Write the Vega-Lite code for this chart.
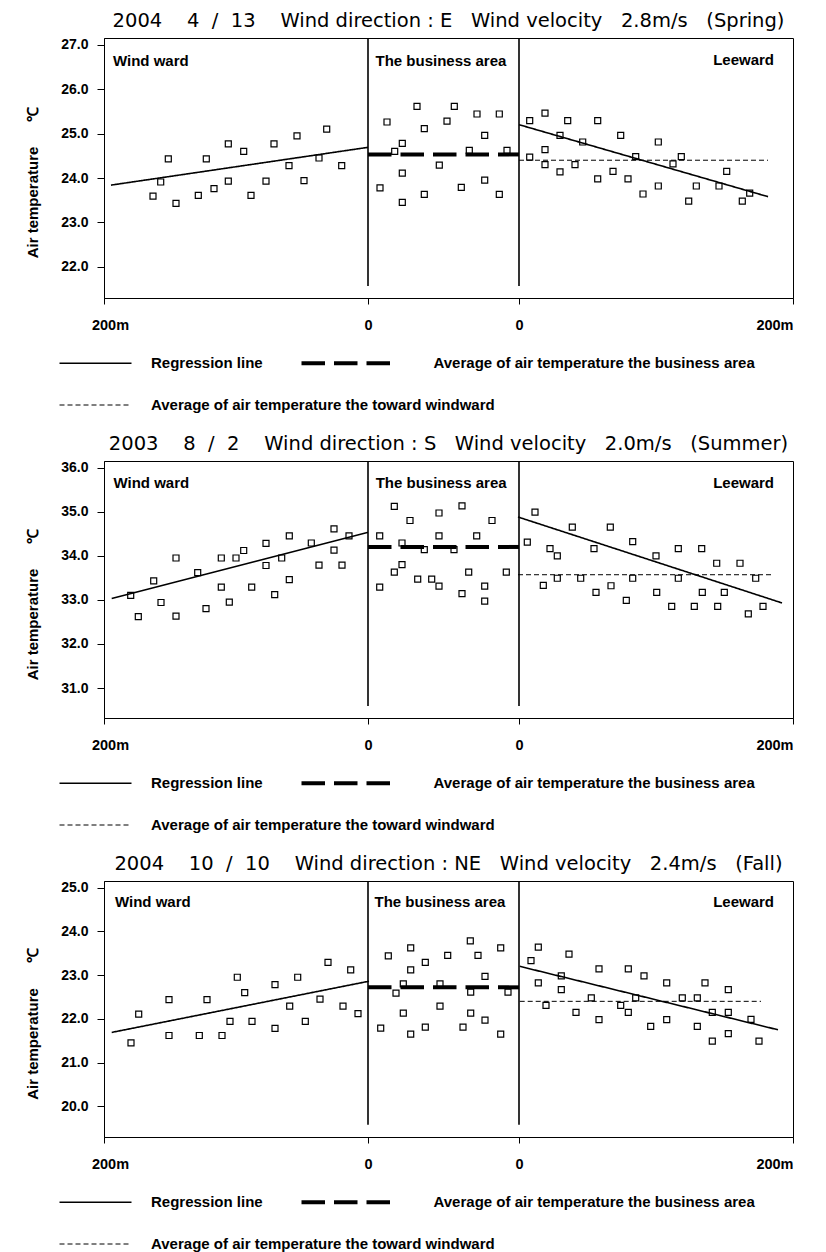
{
  "$schema": "https://vega.github.io/schema/vega-lite/v6.json",
  "background": "white",
  "padding": {"left": 25, "top": 10, "right": 5, "bottom": 0},
  "spacing": 19,
  "config": {
    "view": {"stroke": "black", "strokeWidth": 1},
    "axis": {"labelFont": "Liberation Sans", "labelFontWeight": "bold", "labelColor": "black", "domainColor": "black", "tickColor": "black", "titleColor": "black", "titleFont": "Liberation Sans", "titleFontWeight": "bold", "grid": false},
    "title": {"font": "DejaVu Sans", "fontSize": 19.5, "fontWeight": "normal", "color": "black", "anchor": "middle", "offset": 6},
    "legend": {"title": null, "orient": "none", "labelFont": "Liberation Sans", "labelFontSize": 15, "labelFontWeight": "bold", "labelColor": "black", "labelLimit": 600, "symbolType": "M-7.2,0H7.2", "symbolSize": 100, "symbolOffset": 35, "labelOffset": 83, "symbolStrokeColor": "black", "columnPadding": 30}
  },
  "resolve": {
    "scale": {"x": "independent", "y": "independent", "strokeDash": "independent", "stroke": "independent"},
    "legend": {"strokeDash": "independent", "stroke": "independent"}
  },
  "datasets": {
    "pts": [
      {"p":1,"pos":49,"t":23.59},{"p":1,"pos":56.7,"t":23.91},{"p":1,"pos":64.3,"t":24.43},{"p":1,"pos":72,"t":23.43},{"p":1,"pos":94.3,"t":23.61},{"p":1,"pos":102.3,"t":24.43},{"p":1,"pos":110,"t":23.76},{"p":1,"pos":124.3,"t":24.77},{"p":1,"pos":124.3,"t":23.93},{"p":1,"pos":139.7,"t":24.6},{"p":1,"pos":147,"t":23.61},{"p":1,"pos":162,"t":23.93},{"p":1,"pos":170,"t":24.77},{"p":1,"pos":185,"t":24.28},{"p":1,"pos":193,"t":24.95},{"p":1,"pos":200,"t":23.94},{"p":1,"pos":215,"t":24.45},{"p":1,"pos":222.7,"t":25.1},{"p":1,"pos":237.7,"t":24.28},
      {"p":1,"pos":276,"t":23.78},{"p":1,"pos":283,"t":25.26},{"p":1,"pos":290.7,"t":24.6},{"p":1,"pos":298.3,"t":24.78},{"p":1,"pos":298.3,"t":24.11},{"p":1,"pos":298.3,"t":23.45},{"p":1,"pos":313,"t":25.61},{"p":1,"pos":320.3,"t":25.11},{"p":1,"pos":320.3,"t":23.63},{"p":1,"pos":335.3,"t":24.29},{"p":1,"pos":343,"t":25.28},{"p":1,"pos":350.3,"t":25.61},{"p":1,"pos":357.3,"t":23.79},{"p":1,"pos":365.3,"t":24.62},{"p":1,"pos":373,"t":25.44},{"p":1,"pos":380.7,"t":24.96},{"p":1,"pos":380.7,"t":23.95},{"p":1,"pos":395.3,"t":25.44},{"p":1,"pos":395.3,"t":23.63},{"p":1,"pos":403,"t":24.62},
      {"p":1,"pos":425.7,"t":25.29},{"p":1,"pos":425.7,"t":24.47},{"p":1,"pos":441,"t":25.46},{"p":1,"pos":441,"t":24.64},{"p":1,"pos":441,"t":24.3},{"p":1,"pos":456,"t":24.96},{"p":1,"pos":456,"t":24.14},{"p":1,"pos":463.7,"t":25.29},{"p":1,"pos":471,"t":24.3},{"p":1,"pos":478.7,"t":24.81},{"p":1,"pos":493.7,"t":25.29},{"p":1,"pos":493.7,"t":23.98},{"p":1,"pos":509,"t":24.15},{"p":1,"pos":516.7,"t":24.96},{"p":1,"pos":524,"t":23.98},{"p":1,"pos":531.7,"t":24.48},{"p":1,"pos":539,"t":23.64},{"p":1,"pos":554.3,"t":24.81},{"p":1,"pos":554.3,"t":23.82},{"p":1,"pos":569,"t":24.32},{"p":1,"pos":577.3,"t":24.48},{"p":1,"pos":584.7,"t":23.48},{"p":1,"pos":592.3,"t":23.82},{"p":1,"pos":615,"t":23.82},{"p":1,"pos":622.7,"t":24.15},{"p":1,"pos":638.3,"t":23.48},{"p":1,"pos":645.7,"t":23.66},
      {"p":2,"pos":26.7,"t":33.1},{"p":2,"pos":34.3,"t":32.62},{"p":2,"pos":49.7,"t":33.43},{"p":2,"pos":57,"t":32.94},{"p":2,"pos":72,"t":33.95},{"p":2,"pos":72,"t":32.63},{"p":2,"pos":93.7,"t":33.62},{"p":2,"pos":102,"t":32.8},{"p":2,"pos":117.3,"t":33.95},{"p":2,"pos":117.3,"t":33.29},{"p":2,"pos":125.3,"t":32.95},{"p":2,"pos":132,"t":33.95},{"p":2,"pos":139.7,"t":34.12},{"p":2,"pos":147.7,"t":33.29},{"p":2,"pos":162,"t":34.28},{"p":2,"pos":162,"t":33.78},{"p":2,"pos":170.7,"t":33.12},{"p":2,"pos":177.7,"t":33.95},{"p":2,"pos":185.3,"t":34.45},{"p":2,"pos":185.3,"t":33.46},{"p":2,"pos":207.3,"t":34.29},{"p":2,"pos":215,"t":33.79},{"p":2,"pos":230,"t":34.61},{"p":2,"pos":230,"t":34.13},{"p":2,"pos":238,"t":33.79},{"p":2,"pos":245,"t":34.45},
      {"p":2,"pos":275.7,"t":34.45},{"p":2,"pos":275.7,"t":33.29},{"p":2,"pos":290.3,"t":35.12},{"p":2,"pos":290.3,"t":33.63},{"p":2,"pos":298,"t":34.29},{"p":2,"pos":298,"t":33.8},{"p":2,"pos":306,"t":34.8},{"p":2,"pos":313.7,"t":33.47},{"p":2,"pos":320.3,"t":34.14},{"p":2,"pos":327.7,"t":33.47},{"p":2,"pos":335,"t":34.97},{"p":2,"pos":335,"t":34.45},{"p":2,"pos":335,"t":33.31},{"p":2,"pos":350,"t":34.14},{"p":2,"pos":358,"t":35.13},{"p":2,"pos":358,"t":33.14},{"p":2,"pos":364.7,"t":33.63},{"p":2,"pos":372.7,"t":34.45},{"p":2,"pos":380.7,"t":33.31},{"p":2,"pos":380.7,"t":32.97},{"p":2,"pos":388,"t":34.8},{"p":2,"pos":402.3,"t":33.63},
      {"p":2,"pos":431,"t":34.99},{"p":2,"pos":423.3,"t":34.31},{"p":2,"pos":439.3,"t":33.33},{"p":2,"pos":446,"t":34.16},{"p":2,"pos":453.3,"t":34.0},{"p":2,"pos":453.3,"t":33.49},{"p":2,"pos":468.3,"t":34.65},{"p":2,"pos":476.7,"t":33.49},{"p":2,"pos":490,"t":34.16},{"p":2,"pos":492,"t":33.17},{"p":2,"pos":506.3,"t":34.65},{"p":2,"pos":507,"t":33.32},{"p":2,"pos":522.3,"t":32.99},{"p":2,"pos":528.7,"t":34.32},{"p":2,"pos":528.7,"t":33.49},{"p":2,"pos":552,"t":34.0},{"p":2,"pos":552.7,"t":33.17},{"p":2,"pos":567.7,"t":32.85},{"p":2,"pos":574.3,"t":34.16},{"p":2,"pos":574.3,"t":33.49},{"p":2,"pos":590.3,"t":32.85},{"p":2,"pos":597.7,"t":34.16},{"p":2,"pos":598.3,"t":33.17},{"p":2,"pos":612.7,"t":33.83},{"p":2,"pos":613.7,"t":32.85},{"p":2,"pos":620.3,"t":33.17},{"p":2,"pos":636,"t":33.83},{"p":2,"pos":644.3,"t":32.68},{"p":2,"pos":651.7,"t":33.49},{"p":2,"pos":659,"t":32.85},
      {"p":3,"pos":27,"t":21.45},{"p":3,"pos":34.7,"t":22.11},{"p":3,"pos":65,"t":22.44},{"p":3,"pos":65,"t":21.62},{"p":3,"pos":95.3,"t":21.62},{"p":3,"pos":103,"t":22.44},{"p":3,"pos":118,"t":21.62},{"p":3,"pos":126,"t":21.94},{"p":3,"pos":133.3,"t":22.95},{"p":3,"pos":140.7,"t":22.6},{"p":3,"pos":148,"t":21.94},{"p":3,"pos":171,"t":22.78},{"p":3,"pos":171,"t":21.78},{"p":3,"pos":185.7,"t":22.29},{"p":3,"pos":193.7,"t":22.95},{"p":3,"pos":201.3,"t":21.94},{"p":3,"pos":216,"t":22.45},{"p":3,"pos":224,"t":23.29},{"p":3,"pos":239,"t":22.29},{"p":3,"pos":246.7,"t":23.12},{"p":3,"pos":254,"t":22.12},
      {"p":3,"pos":276.7,"t":21.79},{"p":3,"pos":284.3,"t":23.44},{"p":3,"pos":292,"t":22.59},{"p":3,"pos":299.3,"t":22.8},{"p":3,"pos":299.3,"t":22.13},{"p":3,"pos":306.7,"t":23.62},{"p":3,"pos":306.7,"t":23.12},{"p":3,"pos":306.7,"t":21.65},{"p":3,"pos":321.3,"t":23.29},{"p":3,"pos":321.3,"t":21.81},{"p":3,"pos":336,"t":22.8},{"p":3,"pos":336,"t":22.29},{"p":3,"pos":343.7,"t":23.45},{"p":3,"pos":359,"t":21.81},{"p":3,"pos":366.3,"t":23.78},{"p":3,"pos":366.7,"t":22.61},{"p":3,"pos":366.7,"t":22.13},{"p":3,"pos":374,"t":23.45},{"p":3,"pos":381,"t":22.97},{"p":3,"pos":381,"t":21.97},{"p":3,"pos":396.7,"t":23.62},{"p":3,"pos":396.7,"t":21.65},{"p":3,"pos":404,"t":22.61},
      {"p":3,"pos":427,"t":23.33},{"p":3,"pos":434.3,"t":23.64},{"p":3,"pos":434.3,"t":22.82},{"p":3,"pos":442,"t":22.31},{"p":3,"pos":457.3,"t":22.98},{"p":3,"pos":457.3,"t":22.67},{"p":3,"pos":465,"t":23.48},{"p":3,"pos":472,"t":22.15},{"p":3,"pos":487.3,"t":22.48},{"p":3,"pos":495,"t":23.14},{"p":3,"pos":495,"t":21.98},{"p":3,"pos":516.7,"t":22.31},{"p":3,"pos":524.3,"t":23.14},{"p":3,"pos":524.3,"t":22.15},{"p":3,"pos":531.7,"t":22.48},{"p":3,"pos":540,"t":22.98},{"p":3,"pos":546.7,"t":21.83},{"p":3,"pos":562.7,"t":22.82},{"p":3,"pos":562.7,"t":21.98},{"p":3,"pos":578.3,"t":22.48},{"p":3,"pos":593.3,"t":22.48},{"p":3,"pos":593.3,"t":21.83},{"p":3,"pos":601,"t":22.82},{"p":3,"pos":608.3,"t":22.15},{"p":3,"pos":608.3,"t":21.49},{"p":3,"pos":624.3,"t":22.67},{"p":3,"pos":624.3,"t":22.15},{"p":3,"pos":624.3,"t":21.66},{"p":3,"pos":647,"t":21.99},{"p":3,"pos":655,"t":21.49}
    ],
    "segs": [
      {"p":1,"kind":"Regression line","pos":7,"t":23.84,"pos2":264,"t2":24.69},
      {"p":1,"kind":"Regression line","pos":415,"t":25.2,"pos2":664,"t2":23.58},
      {"p":1,"kind":"Average of air temperature the business area","pos":264,"t":24.53,"pos2":415,"t2":24.53},
      {"p":1,"kind":"Average of air temperature the toward windward","pos":415,"t":24.4,"pos2":664,"t2":24.4},
      {"p":2,"kind":"Regression line","pos":7.7,"t":33.03,"pos2":264,"t2":34.53},
      {"p":2,"kind":"Regression line","pos":414,"t":34.88,"pos2":678,"t2":32.93},
      {"p":2,"kind":"Average of air temperature the business area","pos":264,"t":34.2,"pos2":415,"t2":34.2},
      {"p":2,"kind":"Average of air temperature the toward windward","pos":414,"t":33.57,"pos2":670,"t2":33.57},
      {"p":3,"kind":"Regression line","pos":7.7,"t":21.69,"pos2":265,"t2":22.86},
      {"p":3,"kind":"Regression line","pos":415.7,"t":23.2,"pos2":674,"t2":21.75},
      {"p":3,"kind":"Average of air temperature the business area","pos":264,"t":22.72,"pos2":415,"t2":22.72},
      {"p":3,"kind":"Average of air temperature the toward windward","pos":415.7,"t":22.4,"pos2":657,"t2":22.4}
    ],
    "divs": [
      {"p":1,"pos":264,"t":27.15,"t2":21.57},{"p":1,"pos":415,"t":27.15,"t2":21.57},
      {"p":2,"pos":264,"t":36.15,"t2":30.59},{"p":2,"pos":415,"t":36.15,"t2":30.59},
      {"p":3,"pos":264,"t":25.15,"t2":19.58},{"p":3,"pos":415,"t":25.15,"t2":19.58}
    ],
    "labels": [
      {"p":1,"label":"Wind ward","pos":9,"t":26.64},{"p":1,"label":"The business area","pos":271.5,"t":26.64},{"p":1,"label":"Leeward","pos":670,"t":26.66},
      {"p":2,"label":"Wind ward","pos":9.5,"t":35.66},{"p":2,"label":"The business area","pos":271.7,"t":35.66},{"p":2,"label":"Leeward","pos":670,"t":35.66},
      {"p":3,"label":"Wind ward","pos":11,"t":24.66},{"p":3,"label":"The business area","pos":270.5,"t":24.66},{"p":3,"label":"Leeward","pos":670,"t":24.66}
    ]
  },
  "vconcat": [
    {
      "title": {"text": "2004\u00a0\u00a0\u00a0\u00a04\u00a0\u00a0/\u00a0\u00a013\u00a0\u00a0\u00a0\u00a0Wind direction\u00a0:\u00a0E\u00a0\u00a0\u00a0Wind velocity\u00a0\u00a0\u00a02.8m/s\u00a0\u00a0\u00a0(Spring)"},
      "width": 689, "height": 260,
      "encoding": {
        "x": {"field": "pos", "type": "quantitative", "scale": {"domain": [0, 689], "nice": false, "zero": false},
          "axis": {"values": [0, 264, 415, 689], "labelExpr": "datum.value < 100 || datum.value > 600 ? '200m' : '0'", "title": null, "tickSize": 6, "labelPadding": 14, "labelFontSize": 14.5, "labelFlush": false,
            "labelAlign": {"condition": {"test": "datum.value > 600", "value": "right"}, "value": "center"},
            "labelOffset": {"condition": {"test": "datum.value < 100", "value": 6}, "value": 0}}},
        "y": {"field": "t", "type": "quantitative", "scale": {"domain": [21.3, 27.15], "nice": false, "zero": false},
          "axis": {"values": [22, 23, 24, 25, 26, 27], "format": ".1f", "title": "Air temperature\u00a0\u00a0\u00a0\u00a0\u00a0\u00a0℃", "titleY": 144, "tickSize": 7, "labelPadding": 9, "labelFontSize": 14, "titleFontSize": 15, "titlePadding": 20}}
      },
      "layer": [
        {"data": {"name": "divs"}, "transform": [{"filter": "datum.p == 1"}], "mark": {"type": "rule", "color": "black", "strokeWidth": 1.6}, "encoding": {"y2": {"field": "t2"}}},
        {"data": {"name": "segs"}, "transform": [{"filter": "datum.p == 1 && datum.kind != 'Average of air temperature the toward windward'"}], "mark": {"type": "rule", "color": "black"},
          "encoding": {"x2": {"field": "pos2"}, "y2": {"field": "t2"},
            "strokeWidth": {"condition": {"test": "datum.kind == 'Average of air temperature the business area'", "value": 4}, "value": 1.6},
            "strokeDash": {"field": "kind", "type": "nominal", "scale": {"domain": ["Regression line", "Average of air temperature the business area"], "range": [[1, 0], [23.5, 9]]},
              "legend": {"legendX": -51, "legendY": 317.5, "direction": "horizontal",
                "encode": {"symbols": {"update": {"shape": {"signal": "datum.value === 'Regression line' ? 'M-7.2,0H7.2' : 'M-7.2,0H10.8'"}, "strokeWidth": {"signal": "datum.value === 'Regression line' ? 1.5 : 4"}}},
                  "labels": {"update": {"x": {"signal": "datum.value === 'Regression line' ? 98 : 138.5"}}}}}}}},
        {"data": {"name": "segs"}, "transform": [{"filter": "datum.p == 1 && datum.kind == 'Average of air temperature the toward windward'"}], "mark": {"type": "rule", "strokeDash": [5, 3], "strokeWidth": 1},
          "encoding": {"x2": {"field": "pos2"}, "y2": {"field": "t2"},
            "stroke": {"field": "kind", "type": "nominal", "scale": {"range": ["black"]},
              "legend": {"legendX": -51, "legendY": 359.5, "symbolDash": [5, 3], "symbolStrokeWidth": 1,
                "encode": {"symbols": {"update": {"x": {"value": 42.5}}}, "labels": {"update": {"x": {"value": 98}}}}}}}},
        {"data": {"name": "pts"}, "transform": [{"filter": "datum.p == 1"}], "mark": {"type": "point", "shape": "square", "filled": false, "size": 36, "stroke": "black", "strokeWidth": 1.2, "opacity": 1}},
        {"data": {"name": "labels"}, "transform": [{"filter": "datum.p == 1"}], "mark": {"type": "text", "font": "Liberation Sans", "fontSize": 15, "fontWeight": "bold", "color": "black", "baseline": "middle", "align": {"expr": "datum.label == 'Leeward' ? 'right' : 'left'"}}, "encoding": {"text": {"field": "label"}}}
      ]
    },
    {
      "title": {"text": "2003\u00a0\u00a0\u00a0\u00a08\u00a0\u00a0/\u00a0\u00a02\u00a0\u00a0\u00a0\u00a0Wind direction\u00a0:\u00a0S\u00a0\u00a0\u00a0Wind velocity\u00a0\u00a0\u00a02.0m/s\u00a0\u00a0\u00a0(Summer)"},
      "width": 689, "height": 257,
      "encoding": {
        "x": {"field": "pos", "type": "quantitative", "scale": {"domain": [0, 689], "nice": false, "zero": false},
          "axis": {"values": [0, 264, 415, 689], "labelExpr": "datum.value < 100 || datum.value > 600 ? '200m' : '0'", "title": null, "tickSize": 6, "labelPadding": 14, "labelFontSize": 14.5, "labelFlush": false,
            "labelAlign": {"condition": {"test": "datum.value > 600", "value": "right"}, "value": "center"},
            "labelOffset": {"condition": {"test": "datum.value < 100", "value": 6}, "value": 0}}},
        "y": {"field": "t", "type": "quantitative", "scale": {"domain": [30.32, 36.15], "nice": false, "zero": false},
          "axis": {"values": [31, 32, 33, 34, 35, 36], "format": ".1f", "title": "Air temperature\u00a0\u00a0\u00a0\u00a0\u00a0\u00a0℃", "titleY": 143, "tickSize": 7, "labelPadding": 9, "labelFontSize": 14, "titleFontSize": 15, "titlePadding": 20}}
      },
      "layer": [
        {"data": {"name": "divs"}, "transform": [{"filter": "datum.p == 2"}], "mark": {"type": "rule", "color": "black", "strokeWidth": 1.6}, "encoding": {"y2": {"field": "t2"}}},
        {"data": {"name": "segs"}, "transform": [{"filter": "datum.p == 2 && datum.kind != 'Average of air temperature the toward windward'"}], "mark": {"type": "rule", "color": "black"},
          "encoding": {"x2": {"field": "pos2"}, "y2": {"field": "t2"},
            "strokeWidth": {"condition": {"test": "datum.kind == 'Average of air temperature the business area'", "value": 4}, "value": 1.6},
            "strokeDash": {"field": "kind", "type": "nominal", "scale": {"domain": ["Regression line", "Average of air temperature the business area"], "range": [[1, 0], [23.5, 9]]},
              "legend": {"legendX": -51, "legendY": 314.5, "direction": "horizontal",
                "encode": {"symbols": {"update": {"shape": {"signal": "datum.value === 'Regression line' ? 'M-7.2,0H7.2' : 'M-7.2,0H10.8'"}, "strokeWidth": {"signal": "datum.value === 'Regression line' ? 1.5 : 4"}}},
                  "labels": {"update": {"x": {"signal": "datum.value === 'Regression line' ? 98 : 138.5"}}}}}}}},
        {"data": {"name": "segs"}, "transform": [{"filter": "datum.p == 2 && datum.kind == 'Average of air temperature the toward windward'"}], "mark": {"type": "rule", "strokeDash": [5, 3], "strokeWidth": 1},
          "encoding": {"x2": {"field": "pos2"}, "y2": {"field": "t2"},
            "stroke": {"field": "kind", "type": "nominal", "scale": {"range": ["black"]},
              "legend": {"legendX": -51, "legendY": 356.5, "symbolDash": [5, 3], "symbolStrokeWidth": 1,
                "encode": {"symbols": {"update": {"x": {"value": 42.5}}}, "labels": {"update": {"x": {"value": 98}}}}}}}},
        {"data": {"name": "pts"}, "transform": [{"filter": "datum.p == 2"}], "mark": {"type": "point", "shape": "square", "filled": false, "size": 36, "stroke": "black", "strokeWidth": 1.2, "opacity": 1}},
        {"data": {"name": "labels"}, "transform": [{"filter": "datum.p == 2"}], "mark": {"type": "text", "font": "Liberation Sans", "fontSize": 15, "fontWeight": "bold", "color": "black", "baseline": "middle", "align": {"expr": "datum.label == 'Leeward' ? 'right' : 'left'"}}, "encoding": {"text": {"field": "label"}}}
      ]
    },
    {
      "title": {"text": "2004\u00a0\u00a0\u00a0\u00a010\u00a0\u00a0/\u00a0\u00a010\u00a0\u00a0\u00a0\u00a0Wind direction\u00a0:\u00a0NE\u00a0\u00a0\u00a0Wind velocity\u00a0\u00a0\u00a02.4m/s\u00a0\u00a0\u00a0(Fall)"},
      "width": 689, "height": 256,
      "encoding": {
        "x": {"field": "pos", "type": "quantitative", "scale": {"domain": [0, 689], "nice": false, "zero": false},
          "axis": {"values": [0, 264, 415, 689], "labelExpr": "datum.value < 100 || datum.value > 600 ? '200m' : '0'", "title": null, "tickSize": 6, "labelPadding": 14, "labelFontSize": 14.5, "labelFlush": false,
            "labelAlign": {"condition": {"test": "datum.value > 600", "value": "right"}, "value": "center"},
            "labelOffset": {"condition": {"test": "datum.value < 100", "value": 6}, "value": 0}}},
        "y": {"field": "t", "type": "quantitative", "scale": {"domain": [19.3, 25.15], "nice": false, "zero": false},
          "axis": {"values": [20, 21, 22, 23, 24, 25], "format": ".1f", "title": "Air temperature\u00a0\u00a0\u00a0\u00a0\u00a0\u00a0℃", "titleY": 142.5, "tickSize": 7, "labelPadding": 9, "labelFontSize": 14, "titleFontSize": 15, "titlePadding": 20}}
      },
      "layer": [
        {"data": {"name": "divs"}, "transform": [{"filter": "datum.p == 3"}], "mark": {"type": "rule", "color": "black", "strokeWidth": 1.6}, "encoding": {"y2": {"field": "t2"}}},
        {"data": {"name": "segs"}, "transform": [{"filter": "datum.p == 3 && datum.kind != 'Average of air temperature the toward windward'"}], "mark": {"type": "rule", "color": "black"},
          "encoding": {"x2": {"field": "pos2"}, "y2": {"field": "t2"},
            "strokeWidth": {"condition": {"test": "datum.kind == 'Average of air temperature the business area'", "value": 4}, "value": 1.6},
            "strokeDash": {"field": "kind", "type": "nominal", "scale": {"domain": ["Regression line", "Average of air temperature the business area"], "range": [[1, 0], [23.5, 9]]},
              "legend": {"legendX": -51, "legendY": 313.5, "direction": "horizontal",
                "encode": {"symbols": {"update": {"shape": {"signal": "datum.value === 'Regression line' ? 'M-7.2,0H7.2' : 'M-7.2,0H10.8'"}, "strokeWidth": {"signal": "datum.value === 'Regression line' ? 1.5 : 4"}}},
                  "labels": {"update": {"x": {"signal": "datum.value === 'Regression line' ? 98 : 138.5"}}}}}}}},
        {"data": {"name": "segs"}, "transform": [{"filter": "datum.p == 3 && datum.kind == 'Average of air temperature the toward windward'"}], "mark": {"type": "rule", "strokeDash": [5, 3], "strokeWidth": 1},
          "encoding": {"x2": {"field": "pos2"}, "y2": {"field": "t2"},
            "stroke": {"field": "kind", "type": "nominal", "scale": {"range": ["black"]},
              "legend": {"legendX": -51, "legendY": 355.5, "symbolDash": [5, 3], "symbolStrokeWidth": 1,
                "encode": {"symbols": {"update": {"x": {"value": 42.5}}}, "labels": {"update": {"x": {"value": 98}}}}}}}},
        {"data": {"name": "pts"}, "transform": [{"filter": "datum.p == 3"}], "mark": {"type": "point", "shape": "square", "filled": false, "size": 36, "stroke": "black", "strokeWidth": 1.2, "opacity": 1}},
        {"data": {"name": "labels"}, "transform": [{"filter": "datum.p == 3"}], "mark": {"type": "text", "font": "Liberation Sans", "fontSize": 15, "fontWeight": "bold", "color": "black", "baseline": "middle", "align": {"expr": "datum.label == 'Leeward' ? 'right' : 'left'"}}, "encoding": {"text": {"field": "label"}}}
      ]
    }
  ]
}
